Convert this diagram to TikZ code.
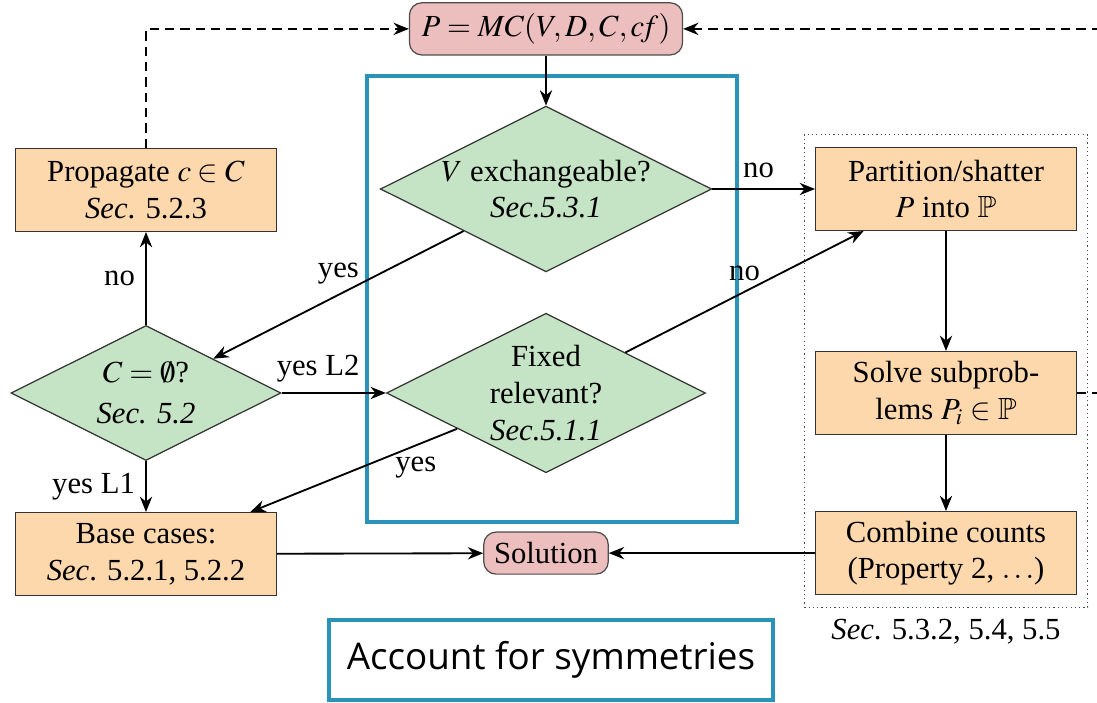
\documentclass[tikz,border=0pt]{standalone}
\usepackage{amssymb}
\usepackage{mathptmx}
\usepackage[no-math]{fontspec}
\setmainfont{Liberation Serif}
\newfontfamily\slidefont{Open Sans}
\usepackage{xcolor}
\usetikzlibrary{positioning, arrows.meta, shapes.geometric, fit}

\definecolor{boxorange}{RGB}{253,216,173}
\definecolor{boxgreen}{RGB}{197,227,197}
\definecolor{boxpink}{RGB}{236,190,190}
\definecolor{framecol}{RGB}{42,147,185}

\begin{document}
\begin{tikzpicture}[
        x=0.326pt, y=-0.326pt,
        node distance=130.4pt,
        on grid,
        >={Stealth[length=5pt, width=4pt]},
        process/.style={rectangle, draw=black!80, fill=boxorange, minimum width=85pt,
          minimum height=27pt, align=center, inner sep=2pt},
        decision/.style={diamond, draw=black!80, fill=boxgreen, aspect=2,
          align=center, inner sep=0pt},
        terminal/.style={rectangle, rounded corners=4pt, draw=black!70, fill=boxpink,
          align=center},
        loopback/.style={->, dash pattern=on 3pt off 2pt, line width=0.6pt},
      ]

      \useasboundingbox (0,0) rectangle (1097,703);

      \node[decision, minimum width=88pt, minimum height=44pt] (empty) at (146,393)
        {$C=\emptyset$?\\[1.5pt]\textit{Sec. 5.2}};

      \node[process, above=66.2pt of empty] (prop) {Propagate $c\in C$\\\textit{Sec}. 5.2.3};
      \node[process, below=52.5pt of empty] (base) {Base cases:\\\textit{Sec}. 5.2.1, 5.2.2};

      \node[decision, right=of empty, minimum width=104pt, minimum height=52pt] (fixed)
        {Fixed\\relevant?\\\textit{Sec.5.1.1}};
      \node[decision, above=66.5pt of fixed, minimum width=108pt, minimum height=54pt] (exch)
        {$V$ exchangeable?\\\textit{Sec.5.3.1}};
      \node[terminal, above=52.2pt of exch, minimum width=89pt, minimum height=17pt] (mc)
        {$P=MC(V,D,C,c\!f)$};
      \node[terminal, below=52.2pt of fixed] (sol) {Solution};

      \node[process, right=of exch]            (part)  {Partition/shatter\\$P$ into $\mathbb{P}$};
      \node[process, below=66.5pt of part]     (solve) {Solve subprob-\\lems $P_i\in\mathbb{P}$};
      \node[process, below=52.2pt of solve]    (comb)  {Combine counts\\(Property 2, $\ldots$)};

      \node[draw=black!70, densely dotted, fit=(part)(comb), inner xsep=3.5pt, inner ysep=4pt,
        label={below:\textit{Sec}. 5.3.2, 5.4, 5.5}] (group) {};

      \draw[framecol, line width=1.3pt] (367,76) rectangle (737,522);

      \node[draw=framecol, line width=1.3pt, minimum width=145pt, minimum height=26pt,
        font=\slidefont\fontsize{12}{14}\selectfont] (sym) at (551,660) {Account for symmetries};

      \path[->, line width=0.6pt]
      (mc) edge (exch)
      (exch) edge node [above, pos=0.45] {no} (part)
      (exch) edge node [above] {yes} (empty)
      (empty) edge node [left] {no} (prop)
      (empty) edge node [above, pos=0.35] {yes L2} (fixed)
      (empty) edge node [left] {yes L1} (base)
      (fixed) edge node [above] {no} (part)
      (fixed) edge node [below, pos=0.2] {yes} (base)
      (part) edge (solve)
      (solve) edge (comb)
      (base) edge (sol)
      (comb) edge (sol);

      \draw[loopback] (prop) |- (mc);
      \draw[loopback] (solve.east) -- ++(60,0) |- (mc);

    \end{tikzpicture}
\end{document}
